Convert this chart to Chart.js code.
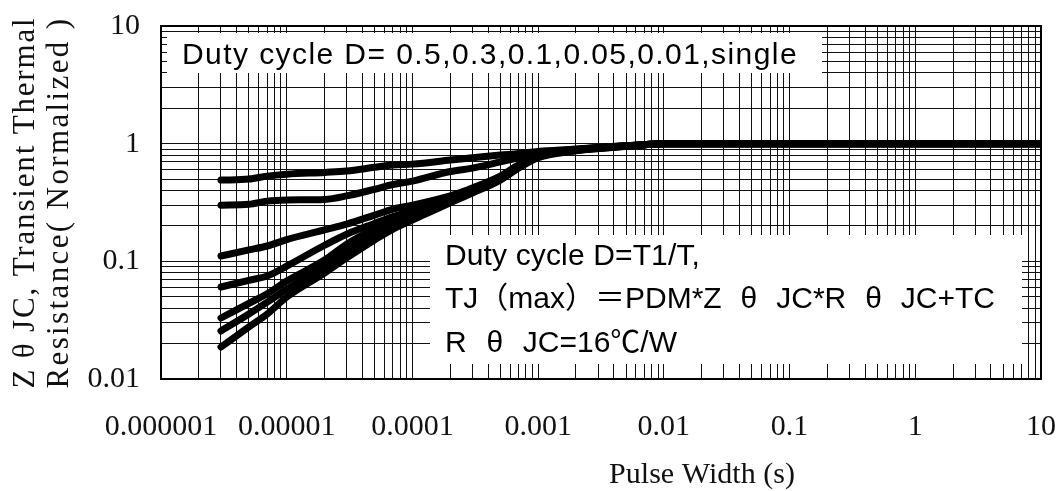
<!DOCTYPE html>
<html lang="en">
<head>
<meta charset="UTF-8">
<title>Transient Thermal Resistance</title>
<script src="https://cdn.jsdelivr.net/npm/chart.js"></script>
<style>
  body { margin: 0; background: #fff; }
  #chart { display: block; }
</style>
</head>
<body>
<canvas id="chart" width="1061" height="491"></canvas>
<script>
// pulse width (s) sample points, shared by every curve
const pulseWidth = [3e-6, 5e-6, 7e-6, 1e-5, 2e-5, 3e-5, 5e-5, 7e-5, 1e-4, 2e-4, 3e-4, 5e-4, 7e-4,
                    1e-3, 2e-3, 3e-3, 5e-3, 7e-3, 1e-2, 0.1, 1, 10];

// normalized Z(theta)JC
const duty05 = [0.49, 0.50, 0.53, 0.55, 0.57, 0.585, 0.63, 0.66, 0.67, 0.725, 0.76, 0.80, 0.825, 0.86, 0.90, 0.93, 0.96, 0.98, 1, 1, 1, 1];
const duty03 = [0.30, 0.305, 0.325, 0.332, 0.336, 0.36, 0.41, 0.45, 0.48, 0.58, 0.62, 0.70, 0.76, 0.83, 0.895, 0.93, 0.96, 0.98, 1, 1, 1, 1];
const duty01 = [0.111, 0.125, 0.135, 0.153, 0.185, 0.207, 0.247, 0.278, 0.30, 0.36, 0.42, 0.53, 0.66, 0.80, 0.89, 0.92, 0.96, 0.98, 1, 1, 1, 1];
const duty005 = [0.0605, 0.069, 0.075, 0.091, 0.137, 0.17, 0.21, 0.24, 0.267, 0.345, 0.41, 0.52, 0.65, 0.79, 0.885, 0.92, 0.955, 0.98, 1, 1, 1, 1];
const duty002 = [0.033, 0.044, 0.053, 0.068, 0.1025, 0.14, 0.19, 0.224, 0.257, 0.335, 0.40, 0.51, 0.64, 0.78, 0.88, 0.915, 0.955, 0.98, 1, 1, 1, 1];
const duty001 = [0.0256, 0.0357, 0.045, 0.058, 0.091, 0.122, 0.17, 0.207, 0.242, 0.325, 0.39, 0.50, 0.63, 0.77, 0.875, 0.91, 0.95, 0.98, 1, 1, 1, 1];
const single = [0.0187, 0.0277, 0.0357, 0.0497, 0.0795, 0.107, 0.152, 0.188, 0.224, 0.315, 0.38, 0.49, 0.62, 0.76, 0.87, 0.91, 0.95, 0.98, 1, 1, 1, 1];

const seriesNames = ['D=0.5', 'D=0.3', 'D=0.1', 'D=0.05', 'D=0.02', 'D=0.01', 'single'];
const seriesValues = [duty05, duty03, duty01, duty005, duty002, duty001, single];

// decade tick labels
const xTickValues = [1e-6, 1e-5, 1e-4, 1e-3, 1e-2, 0.1, 1, 10];
const xTickLabels = ['0.000001', '0.00001', '0.0001', '0.001', '0.01', '0.1', '1', '10'];
const yTickValues = [0.01, 0.1, 1, 10];
const yTickLabels = ['0.01', '0.1', '1', '10'];

const xTitle = 'Pulse Width (s)';
const yTitle = ['Z θ JC, Transient Thermal', 'Resistance( Normalized )'];
const noteTop = 'Duty cycle D= 0.5,0.3,0.1,0.05,0.01,single';
const noteLines = ['Duty cycle D=T1/T,', 'TJ（max）＝PDM*Z θ JC*R θ JC+TC', 'R θ JC=16℃/W'];

// 1..9 per decade, no 1.5 steps
function logGrid(min, max) {
    const out = [];
    for (let e = Math.round(Math.log10(min)); e < Math.round(Math.log10(max)); e++) {
        for (let k = 1; k <= 9; k++) out.push({ value: Number((k * Math.pow(10, e)).toPrecision(3)) });
    }
    out.push({ value: max });
    return out;
}

function labelFor(values, labels) {
    return function (value) {
        const i = values.findIndex(t => Math.abs(t - value) / t < 1e-6);
        return i >= 0 ? labels[i] : '';
    };
}

// text stretched to a given width, by letter spacing or by word spacing
function spacedText(ctx, text, x, y, width, byWord) {
    ctx.letterSpacing = '0px';
    ctx.wordSpacing = '0px';
    const w = ctx.measureText(text).width;
    if (byWord) {
        const gaps = text.split(' ').length - 1;
        ctx.wordSpacing = Math.max(0, (width - w) / Math.max(gaps, 1)) + 'px';
    } else {
        ctx.letterSpacing = Math.max(0, (width - w) / [...text].length) + 'px';
    }
    ctx.fillText(text, x, y);
    ctx.letterSpacing = '0px';
    ctx.wordSpacing = '0px';
}

const notes = {
    id: 'notes',
    beforeDatasetsDraw(chart) {
        const ctx = chart.ctx;
        ctx.save();
        ctx.fillStyle = '#fff';
        ctx.fillRect(167, 33, 655, 40);
        ctx.fillRect(430, 235, 592, 129);
        ctx.fillStyle = '#000';
        ctx.textBaseline = 'alphabetic';
        ctx.textAlign = 'left';
        ctx.font = '30px "Liberation Sans", "Noto Sans CJK SC", sans-serif';
        spacedText(ctx, noteTop, 182, 64, 616);
        spacedText(ctx, noteLines[0], 445, 265, 255);
        spacedText(ctx, noteLines[1], 445, 308, 550, true);
        spacedText(ctx, noteLines[2], 445, 352, 232, true);
        ctx.restore();
    },
    afterDraw(chart) {
        const ctx = chart.ctx;
        const a = chart.chartArea;
        ctx.save();
        ctx.strokeStyle = '#000';
        ctx.lineWidth = 2;
        ctx.strokeRect(a.left, a.top, a.right - a.left, a.bottom - a.top);

        ctx.fillStyle = '#111';
        ctx.font = '30px "Liberation Serif", serif';
        ctx.textAlign = 'center';
        ctx.textBaseline = 'alphabetic';
        spacedText(ctx, xTitle, 702, 483, 186);

        ctx.font = '31px "Liberation Serif", serif';
        ctx.textBaseline = 'middle';
        const cy = (a.top + a.bottom) / 2;
        [26, 60].forEach((x, i) => {
            ctx.save();
            ctx.translate(x, cy);
            ctx.rotate(-Math.PI / 2);
            spacedText(ctx, yTitle[i], 0, 0, 372);
            ctx.restore();
        });
        ctx.restore();
    }
};

const datasets = seriesValues.map((vals, i) => ({
    label: seriesNames[i],
    data: pulseWidth.map((x, j) => ({ x: x, y: vals[j] })),
    borderColor: '#000',
    borderWidth: 7,
    borderCapStyle: 'round',
    borderJoinStyle: 'round',
    pointRadius: 0,
    cubicInterpolationMode: 'monotone',
    fill: false
}));

const tickFont = { family: '"Liberation Serif", serif', size: 30 };

function noPad(s) {
    s.paddingLeft = 0; s.paddingRight = 0; s.paddingTop = 0; s.paddingBottom = 0;
}

new Chart(document.getElementById('chart').getContext('2d'), {
    type: 'line',
    data: { datasets: datasets },
    options: {
        responsive: false,
        animation: false,
        layout: { padding: { top: 26, right: 20, bottom: 0, left: 0 } },
        plugins: { legend: { display: false }, tooltip: { enabled: false } },
        scales: {
            x: {
                type: 'logarithmic',
                min: 1e-6,
                max: 10,
                afterBuildTicks: s => { s.ticks = logGrid(1e-6, 10); },
                afterFit: s => { s.height = 112; noPad(s); },
                grid: { color: '#111', lineWidth: 1, drawTicks: false },
                border: { display: false },
                ticks: {
                    autoSkip: false, maxRotation: 0, padding: 30, color: '#111', font: tickFont,
                    callback: labelFor(xTickValues, xTickLabels)
                }
            },
            y: {
                type: 'logarithmic',
                min: 0.01,
                max: 10,
                afterBuildTicks: s => { s.ticks = logGrid(0.01, 10); },
                afterFit: s => { s.width = 161; noPad(s); },
                grid: { color: '#111', lineWidth: 1, drawTicks: false },
                border: { display: false },
                ticks: {
                    autoSkip: false, padding: 21, color: '#111', font: tickFont,
                    callback: labelFor(yTickValues, yTickLabels)
                }
            }
        }
    },
    plugins: [notes]
});
</script>
</body>
</html>
